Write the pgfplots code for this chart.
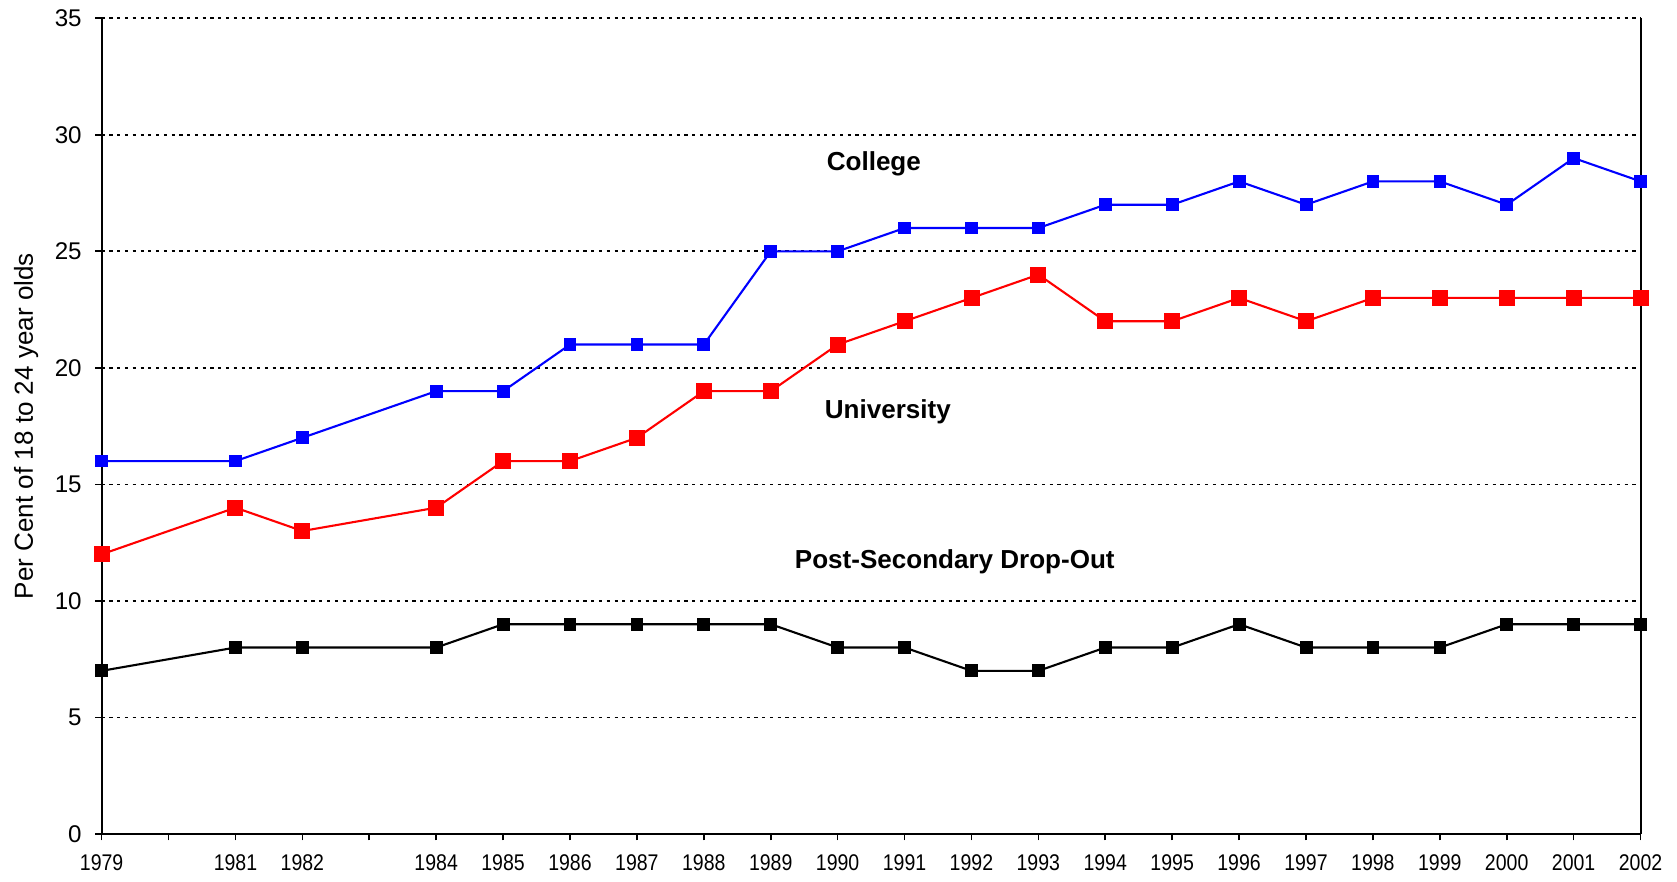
\documentclass[border=0pt]{standalone}
\usepackage{pgfplots}
\pgfplotsset{compat=1.18}
\usepackage{fontspec}
\setmainfont{Liberation Sans}
\newcommand\xl[1]{\scalebox{0.86}[1]{#1}}
\begin{document}
\begin{tikzpicture}
\begin{axis}[
  scale only axis,
  width=732.8pt, height=388.4pt,
  xmin=1979, xmax=2002, ymin=0, ymax=35,
  axis x line=bottom, axis y line=box,
  axis line style={-, line width=1pt},
  ytick pos=left,
  tick align=outside,
  major tick length=3pt,
  tick style={black, line width=0.8pt},
  xtick={1979,...,2002},
  xticklabels={\xl{1979},,\xl{1981},\xl{1982},,\xl{1984},\xl{1985},\xl{1986},\xl{1987},\xl{1988},\xl{1989},\xl{1990},\xl{1991},\xl{1992},\xl{1993},\xl{1994},\xl{1995},\xl{1996},\xl{1997},\xl{1998},\xl{1999},\xl{2000},\xl{2001},\xl{2002}},
  ytick={0,5,...,35},
  ymajorgrids,
  grid style={black, line width=0.8pt, dash pattern=on 1.5pt off 2.2pt},
  /pgf/number format/assume math mode=true,
  xticklabel style={font=\fontsize{10.8}{12}\selectfont, yshift=-3.5pt},
  yticklabel style={font=\fontsize{11.5}{12}\selectfont, xshift=-3pt},
  ylabel={Per Cent of 18 to 24 year olds},
  ylabel style={font=\fontsize{12.4}{14}\selectfont},
  ylabel shift=1pt,
  clip=false,
]
\addplot[blue, line width=1pt, mark=square*, mark size=2.55pt, mark options={solid}] coordinates {
(1979,16)(1981,16)(1982,17)(1984,19)(1985,19)(1986,21)(1987,21)(1988,21)(1989,25)(1990,25)(1991,26)(1992,26)(1993,26)(1994,27)(1995,27)(1996,28)(1997,27)(1998,28)(1999,28)(2000,27)(2001,29)(2002,28)};
\addplot[red, line width=1pt, mark=square*, mark size=3.3pt, mark options={solid}] coordinates {
(1979,12)(1981,14)(1982,13)(1984,14)(1985,16)(1986,16)(1987,17)(1988,19)(1989,19)(1990,21)(1991,22)(1992,23)(1993,24)(1994,22)(1995,22)(1996,23)(1997,22)(1998,23)(1999,23)(2000,23)(2001,23)(2002,23)};
\addplot[black, line width=1pt, mark=square*, mark size=2.55pt, mark options={solid}] coordinates {
(1979,7)(1981,8)(1982,8)(1984,8)(1985,9)(1986,9)(1987,9)(1988,9)(1989,9)(1990,8)(1991,8)(1992,7)(1993,7)(1994,8)(1995,8)(1996,9)(1997,8)(1998,8)(1999,8)(2000,9)(2001,9)(2002,9)};
\node[font=\fontsize{12.4}{14}\selectfont\bfseries] at (axis cs:1990.54,28.75) {College};
\node[font=\fontsize{12.4}{14}\selectfont\bfseries] at (axis cs:1990.75,18.1) {University};
\node[font=\fontsize{12.4}{14}\selectfont\bfseries] at (axis cs:1991.75,11.7) {Post-Secondary Drop-Out};
\end{axis}
\pgfresetboundingbox
\path ([shift={(-48.4pt,-22.4pt)}]current axis.south west) rectangle ([shift={(17.3pt,8.7pt)}]current axis.north east);
\end{tikzpicture}
\end{document}
